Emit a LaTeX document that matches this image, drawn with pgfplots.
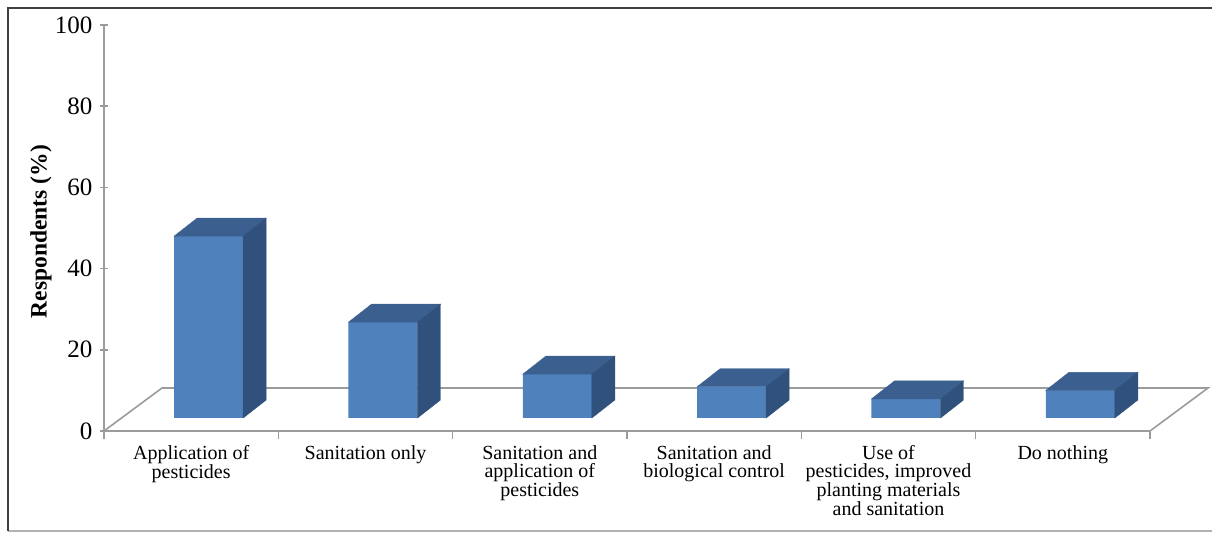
\documentclass[border=0pt]{standalone}
\usepackage{pgfplots}
\usepackage{pgfplotstable}
\pgfplotsset{compat=1.18}
\usepackage{fontspec}
\setmainfont{Liberation Serif}
\definecolor{barfront}{HTML}{4F81BD}
\definecolor{bartop}{HTML}{3B6090}
\definecolor{barside}{HTML}{30517C}
\definecolor{axgray}{RGB}{155,155,155}
\pgfdeclareplotmark{empty3d}{}
\pgfplotstableread{
x v
0 44.8
1 23.6
2 10.8
3 7.7
4 4.7
5 6.8
}\datatable
\begin{document}
\begin{tikzpicture}
\useasboundingbox (0,0) rectangle (1212pt,534pt);
\draw[line width=1.5pt, black!30] (8pt,3pt) -- (1212pt,3pt);
\draw[line width=2.5pt, black!75] (8pt,3pt) -- (8pt,526pt) -- (1212pt,526pt);
\begin{axis}[
  at={(104pt,103pt)}, anchor=south west,
  x=174.33pt, y=4.06pt,
  xmin=-0.5, xmax=5.5, ymin=0, ymax=100,
  clip=false,
  axis x line*=bottom, axis y line*=left,
  axis line style={axgray, line width=1.6pt},
  tick align=outside,
  ytick={0,20,...,100},
  major tick length=8pt,
  ytick style={axgray, line width=1.6pt, xshift=4pt},
  /pgf/number format/assume math mode=true,
  yticklabel style={font=\fontsize{25}{25}\selectfont, text=black},
  xtick={-0.5,0.5,1.5,2.5,3.5,4.5,5.5},
  xticklabels={},
  xtick style={axgray, line width=1.6pt},
  extra x ticks={0,1,2,3,4,5},
  extra x tick labels={{Application of\\pesticides},{Sanitation only},{Sanitation and\\application of\\pesticides},{Sanitation and\\biological control},{Use of\\pesticides, improved\\planting materials\\and sanitation},{Do nothing}},
  extra x tick style={major tick length=0pt},
  xticklabel style={font=\fontsize{20}{18}\selectfont, align=center, anchor=north, text=black, yshift=-11pt},
  ylabel={Respondents (\%)},
  ylabel style={font=\bfseries\fontsize{23.5}{24}\selectfont, at={(axis description cs:-0.0602,0.491)}, anchor=center},
]
\draw[axgray, line width=1.6pt] (axis cs:-0.5,0) -- ++(58pt,43pt) -- ([shift={(58pt,43pt)}]axis cs:5.5,0) -- (axis cs:5.5,0);
\addplot[ybar, bar width=69pt, bar shift=17.5pt, fill=barfront, draw=none, yshift=13pt] table[x=x, y=v] {\datatable};
\addplot[only marks, mark=empty3d, scatter,
  visualization depends on={rawy \as \val},
  scatter/@pre marker code/.code={%
    \begingroup
    \pgfkeys{/pgf/fpu=false}%
    \pgfmathsetmacro\fb{13-\val*4.06}%
    \pgfmathsetmacro\bb{31-\val*4.06}%
    \fill[bartop] (-17pt,13pt) -- (52pt,13pt) -- (75pt,31pt) -- (6pt,31pt) -- cycle;
    \fill[barside] (52pt,13pt) -- (75pt,31pt) -- (75pt,\bb pt) -- (52pt,\fb pt) -- cycle;
    \endgroup
  },
  scatter/@post marker code/.code={}
] table[x=x, y=v] {\datatable};
\end{axis}
\end{tikzpicture}
\end{document}
